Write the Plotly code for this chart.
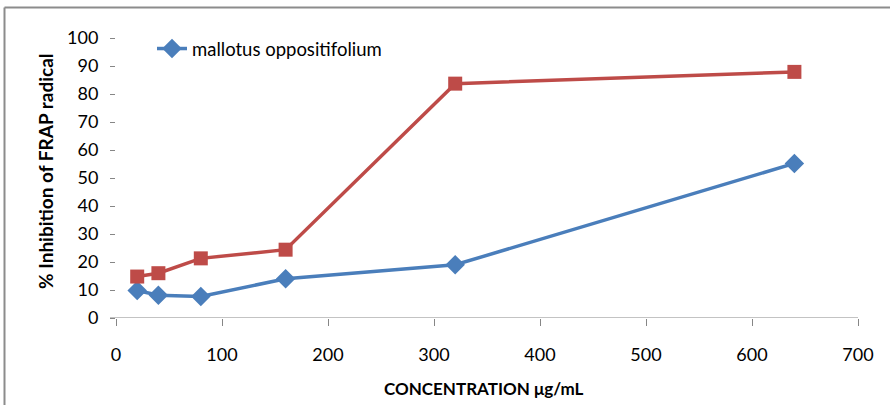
import plotly.graph_objects as go

# FRAP radical inhibition by concentration
concentration = [20, 40, 80, 160, 320, 640]
mallotus = [9.8, 8.1, 7.7, 14.0, 19.0, 55.2]
standard = [14.8, 16.0, 21.3, 24.4, 83.7, 87.9]

x_ticks = [0, 100, 200, 300, 400, 500, 600, 700]
y_ticks = [0, 10, 20, 30, 40, 50, 60, 70, 80, 90, 100]

BLUE = "#4A7EBB"
RED = "#BE4B48"
AXIS_GRAY = "#868686"
FONT = "Lato, 'Open Sans', sans-serif"

fig = go.Figure()

fig.add_trace(go.Scatter(
    x=concentration, y=mallotus, mode="lines+markers",
    name="mallotus oppositifolium",
    line=dict(color=BLUE, width=3.5),
    marker=dict(symbol="diamond", size=15, color=BLUE),
    showlegend=True,
))
fig.add_trace(go.Scatter(
    x=concentration, y=standard, mode="lines+markers",
    name="standard",
    line=dict(color=RED, width=3.5),
    marker=dict(symbol="square", size=14, color=RED),
    showlegend=False,
))

W, H = 890, 405
ml, mr, mt, mb = 116, 32, 38, 87
pw = W - ml - mr
ph = H - mt - mb

fig.update_layout(
    width=W, height=H,
    margin=dict(l=ml, r=mr, t=mt, b=mb),
    paper_bgcolor="white", plot_bgcolor="white",
    font=dict(family=FONT, size=18, color="#000000"),
    legend=dict(
        x=(152 - ml) / pw, y=1 - (49 - mt) / ph, xanchor="left", yanchor="middle",
        bgcolor="rgba(0,0,0,0)", font=dict(size=18.5, color="#000000"),
    ),
    xaxis=dict(
        range=[0, 700], tickvals=x_ticks, ticktext=[str(v) for v in x_ticks],
        showgrid=False, zeroline=False, showline=False,
        ticks="outside", ticklen=7, tickcolor=AXIS_GRAY, tickwidth=1,
        ticklabelstandoff=13,
    ),
    yaxis=dict(
        range=[0, 100], tickvals=y_ticks, ticktext=[str(v) for v in y_ticks],
        showgrid=False, zeroline=False, showline=False,
        ticks="outside", ticklen=5, tickcolor=AXIS_GRAY, tickwidth=1,
        ticklabelstandoff=8,
    ),
    shapes=[
        # horizontal axis line, extended under the y tick marks
        dict(type="line", xref="x domain", yref="y",
             x0=-6 / pw, x1=1, y0=0, y1=0,
             line=dict(color=AXIS_GRAY, width=1)),
        # chart frame (top and left edges)
        dict(type="line", xref="paper", yref="paper",
             x0=-(ml - 4.5) / pw, x1=(W - ml + 5) / pw,
             y0=1 + (mt - 7.5) / ph, y1=1 + (mt - 7.5) / ph,
             line=dict(color="#8C8C8C", width=2)),
        dict(type="line", xref="paper", yref="paper",
             x0=-(ml - 4.5) / pw, x1=-(ml - 4.5) / pw,
             y0=1 + (mt - 7.5) / ph, y1=-(mb + 5) / ph,
             line=dict(color="#8C8C8C", width=2)),
    ],
    annotations=[
        dict(text="<b>% Inhibition of FRAP radical</b>", textangle=-90,
             xref="paper", yref="paper",
             x=(45 - ml) / pw, y=(H - mb - 171) / ph,
             xanchor="center", yanchor="middle", showarrow=False,
             font=dict(size=19, family=FONT, color="#000000")),
        dict(text="<b>CONCENTRATION μg/mL</b>",
             xref="paper", yref="paper",
             x=(484 - ml) / pw, y=(H - mb - 388) / ph,
             xanchor="center", yanchor="middle", showarrow=False,
             font=dict(size=17, family=FONT, color="#000000")),
    ],
)

fig.write_html("out.html")
